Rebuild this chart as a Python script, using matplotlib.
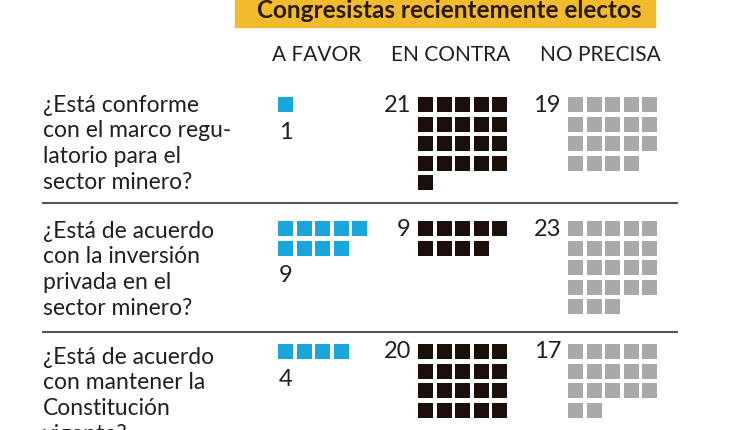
import matplotlib
matplotlib.use("Agg")
import matplotlib.pyplot as plt
from matplotlib.patches import Rectangle

# data
title = "Congresistas recientemente electos"
columns = ["A FAVOR", "EN CONTRA", "NO PRECISA"]
questions = [
    ["¿Está conforme", "con el marco regu-", "latorio para el", "sector minero?"],
    ["¿Está de acuerdo", "con la inversión", "privada en el", "sector minero?"],
    ["¿Está de acuerdo", "con mantener la", "Constitución", "vigente?"],
]
a_favor = [1, 9, 4]
en_contra = [21, 9, 20]
no_precisa = [19, 23, 17]

colors = ["#19a6dc", "#1c0f0a", "#a9a9a9"]
text_col = "#231f20"
plt.rcParams['font.family'] = ['Lato', 'DejaVu Sans']

fig = plt.figure(figsize=(7.5, 4.3), dpi=100)
ax = fig.add_axes([0, 0, 1, 1])
ax.set_xlim(0, 750)
ax.set_ylim(430, 0)
ax.axis('off')

# banner
ax.add_patch(Rectangle((235, -10), 420, 37, color="#f1bb2b", zorder=1))
ax.text(449, 10, title, ha='center', va='center', fontsize=17.5,
        fontweight='bold', color="#2a1a0c", zorder=2)

col_x = [317, 451, 600]
for cx, name in zip(col_x, columns):
    ax.text(cx, 55, name, ha='center', va='center', fontsize=15, color=text_col)

row_top = [97, 221, 344]
text_top = [105, 231, 357]
grid_x = [278, 418, 568]
sep_y = [203, 332]
sq = 15
px, py = 18.6, 19.6
ncols = 5

for r in range(3):
    for k, line in enumerate(questions[r]):
        ax.text(43, text_top[r] + k * 25.7, line, ha='left', va='center',
                fontsize=16.5, color=text_col)
    counts = [a_favor[r], en_contra[r], no_precisa[r]]
    for c in range(3):
        n = counts[c]
        for i in range(n):
            x = grid_x[c] + (i % ncols) * px
            y = row_top[r] + (i // ncols) * py
            ax.add_patch(Rectangle((x, y), sq, sq, color=colors[c], lw=0))
        nrows = (n + ncols - 1) // ncols
        if c == 0:
            ax.text(grid_x[c] + 1, row_top[r] + nrows * py + 15.5, str(n),
                    ha='left', va='center', fontsize=17, color=text_col)
        else:
            ax.text(grid_x[c] - 7, row_top[r] + 8, str(n),
                    ha='right', va='center', fontsize=17, color=text_col)

for y in sep_y:
    ax.plot([43, 677], [y, y], color="#555555", lw=1.5)

fig.savefig("out.png", dpi=100)
